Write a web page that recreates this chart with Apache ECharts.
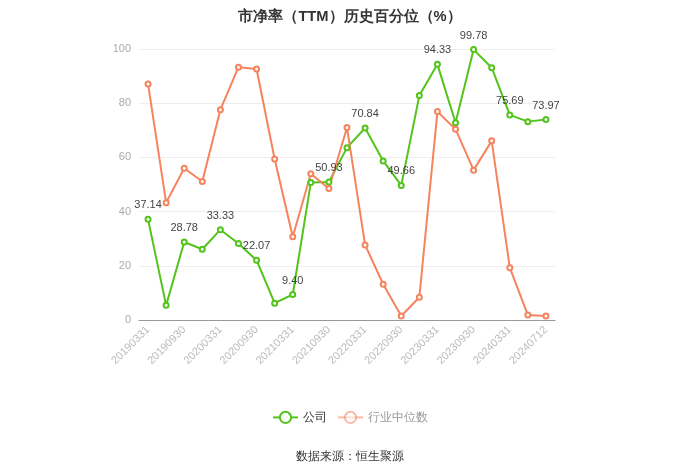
<!DOCTYPE html>
<html>
<head>
<meta charset="utf-8">
<script src="https://cdn.jsdelivr.net/npm/echarts@6/dist/echarts.min.js"></script>
<style>
  html, body { margin: 0; padding: 0; background: #fff; }
  #main { width: 700px; height: 474px; }
</style>
</head>
<body>
<div id="main"></div>
<script>
// categories (quarter ends)
var dates = ['20190331', '20190630', '20190930', '20191231', '20200331', '20200630', '20200930', '20201231',
  '20210331', '20210630', '20210930', '20211231', '20220331', '20220630', '20220930', '20221231',
  '20230331', '20230630', '20230930', '20231231', '20240331', '20240630', '20240712']
// company percentile
var company = [37.14, 5.4, 28.78, 26.1, 33.33, 28.2, 22.07, 6.2, 9.40, 50.7, 50.93, 63.6,
  70.84, 58.7, 49.66, 82.8, 94.33, 72.8, 99.78, 93.1, 75.69, 73.2, 73.97]
// industry median
var industry = [87.1, 43.3, 56.0, 51.1, 77.6, 93.3, 92.6, 59.4, 30.7, 54.0, 48.5, 71.0,
  27.7, 13.2, 1.5, 8.4, 76.9, 70.4, 55.3, 66.1, 19.3, 1.8, 1.5]

var chart = echarts.init(document.getElementById('main'))
chart.setOption({
  backgroundColor: '#fff',
  title: {
    text: '市净率（TTM）历史百分位（%）',
    left: 'center',
    top: 4,
    textStyle: { fontSize: 14.7, fontWeight: 'bold', color: '#333' }
  },
  grid: { left: 139, right: 145, top: 49, bottom: 154 },
  legend: {
    bottom: 45,
    left: 'center',
    itemWidth: 25,
    itemHeight: 14,
    itemGap: 10,
    textStyle: { fontSize: 12, color: '#333' },
    data: [
      { name: '公司' },
      {
        name: '行业中位数',
        textStyle: { color: '#999' },
        itemStyle: { opacity: 0.55 },
        lineStyle: { opacity: 0.55 }
      }
    ]
  },
  graphic: [{
    type: 'text',
    left: 'center',
    top: 451,
    style: { text: '数据来源：恒生聚源', fontSize: 12, fill: '#333' }
  }],
  xAxis: {
    type: 'category',
    data: dates,
    boundaryGap: true,
    axisLine: { lineStyle: { color: '#999' } },
    axisTick: { alignWithLabel: true, interval: 1, lineStyle: { color: '#999' } },
    axisLabel: { interval: 1, rotate: 45, color: '#bbb', fontSize: 11 }
  },
  yAxis: {
    type: 'value',
    min: 0,
    max: 100,
    interval: 20,
    axisLine: { show: false },
    axisTick: { show: false },
    axisLabel: { color: '#aaa', fontSize: 11 },
    splitLine: { lineStyle: { color: '#eee' } }
  },
  series: [
    {
      name: '公司',
      type: 'line',
      data: company,
      symbol: 'emptyCircle',
      symbolSize: 5,
      color: '#52c41a',
      lineStyle: { width: 2 },
      label: {
        show: true,
        position: 'top',
        color: '#444',
        fontSize: 11,
        formatter: function (p) {
          return p.dataIndex % 2 === 0 ? p.value.toFixed(2) : ''
        }
      }
    },
    {
      name: '行业中位数',
      type: 'line',
      data: industry,
      symbol: 'emptyCircle',
      symbolSize: 5,
      color: '#f5845e',
      lineStyle: { width: 2 }
    }
  ]
})
</script>
</body>
</html>
